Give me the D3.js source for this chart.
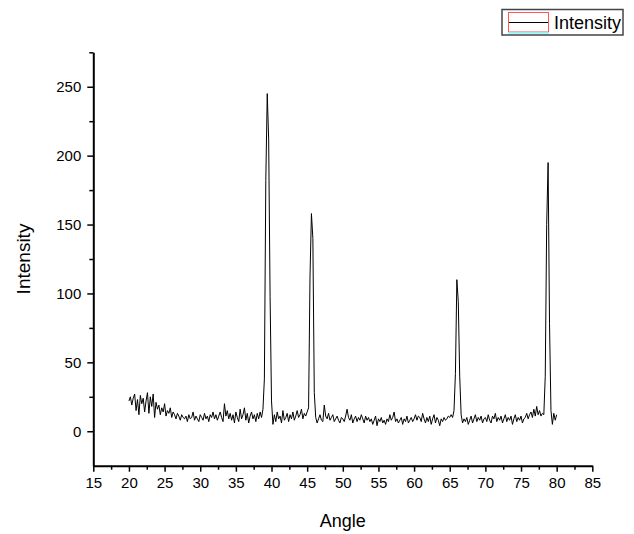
<!DOCTYPE html>
<html>
<head>
<meta charset="utf-8">
<script src="https://cdn.jsdelivr.net/npm/d3@7"></script>
<style>
  body { margin: 0; background: #fff; }
  text { font-family: "Liberation Sans", Arial, sans-serif; fill: #000; }
</style>
</head>
<body>
<svg id="chart" width="634" height="534"></svg>
<script>
// scan: 20 to 80 degrees, 0.2 degree step
let angleStart = 20;
let angleStep = 0.2;
let intensity = [
    22, 25, 19, 24, 27, 15, 23, 12, 26, 20,
    24, 14, 22, 28, 13, 25, 18, 27, 10, 21,
    16, 19, 12, 17, 14, 20, 11, 15, 13, 17,
    10, 14, 12, 9, 13, 11, 8, 12, 10, 9,
    11, 7, 12, 9, 10, 14, 8, 11, 9, 7,
    12, 10, 8, 13, 9, 11, 7, 12, 10, 14,
    9, 12, 8, 11, 14, 10, 7, 20, 11, 15,
    9, 13, 8, 12, 6, 14, 10, 7, 16, 9,
    12, 17, 8, 13, 6, 11, 14, 9, 12, 7,
    13, 9, 14, 10, 16, 38, 182, 245, 212, 98,
    22, 5, 12, 7, 14, 9, 11, 6, 15, 8,
    10, 13, 7, 12, 9, 14, 8, 11, 15, 10,
    12, 16, 9, 13, 11, 14, 17, 112, 158, 140,
    28, 10, 6, 9, 12, 8, 7, 19, 11, 9,
    13, 8, 10, 12, 7, 9, 11, 8, 6, 10,
    9, 7, 11, 16, 10, 8, 12, 6, 9, 11,
    7, 10, 8, 12, 9, 6, 11, 8, 10, 7,
    9, 5, 8, 11, 4, 9, 7, 10, 6, 8,
    5, 9, 7, 12, 8, 10, 14, 7, 9, 6,
    8, 10, 5, 9, 7, 11, 6, 8, 10, 7,
    9, 12, 8, 11, 10, 7, 13, 9, 6, 10,
    7, 11, 5, 9, 12, 6, 10, 8, 4, 9,
    7, 10, 8, 9, 11, 10, 12, 10, 15, 42,
    110, 94, 40, 12, 6, 9, 7, 10, 5, 8,
    11, 6, 9, 12, 7, 10, 8, 11, 6, 9,
    10, 7, 12, 8, 6, 11, 9, 13, 7, 10,
    8, 11, 6, 9, 12, 7, 10, 8, 11, 5,
    9, 12, 7, 10, 8, 11, 6, 9, 10, 13,
    9, 12, 14, 10, 16, 11, 18, 12, 15, 11,
    13, 12, 40, 150, 195, 78, 15, 5, 13, 8,
    12
];

let xTicks = [15, 20, 25, 30, 35, 40, 45, 50, 55, 60, 65, 70, 75, 80, 85];
let xMinor = [17.5, 22.5, 27.5, 32.5, 37.5, 42.5, 47.5, 52.5, 57.5, 62.5, 67.5, 72.5, 77.5, 82.5];
let yTicks = [0, 50, 100, 150, 200, 250];
let yMinor = [25, 75, 125, 175, 225, 275];

let svg = d3.select("#chart");

let plotLeft = 93.3, plotRight = 592.3, plotTop = 52.3, plotBottom = 465.7;

let x = d3.scaleLinear().domain([15, 85]).range([plotLeft, plotRight]);
let y = d3.scaleLinear().domain([-25, 275]).range([plotBottom, plotTop]);

let points = intensity.map((v, i) => [angleStart + i * angleStep, v]);

// minor ticks first, majors with labels on top
svg.append("g")
    .attr("transform", "translate(0," + plotBottom + ")")
    .call(d3.axisBottom(x).tickValues(xMinor).tickSize(4).tickSizeOuter(0).tickFormat(""))
    .call(g => g.select(".domain").remove())
    .selectAll("line").style("stroke", "#000").style("stroke-width", 1.5);

svg.append("g")
    .attr("transform", "translate(" + plotLeft + ",0)")
    .call(d3.axisLeft(y).tickValues(yMinor).tickSize(4).tickSizeOuter(0).tickFormat(""))
    .call(g => g.select(".domain").remove())
    .selectAll("line").style("stroke", "#000").style("stroke-width", 1.5);

let xAxis = svg.append("g")
    .attr("transform", "translate(0," + plotBottom + ")")
    .call(d3.axisBottom(x).tickValues(xTicks).tickSize(6).tickSizeOuter(0).tickPadding(6));

let yAxis = svg.append("g")
    .attr("transform", "translate(" + plotLeft + ",0)")
    .call(d3.axisLeft(y).tickValues(yTicks).tickSize(6).tickSizeOuter(0).tickPadding(6));

[xAxis, yAxis].forEach(g => {
    g.select(".domain").style("stroke", "#000").style("stroke-width", 2);
    g.selectAll(".tick line").style("stroke", "#000").style("stroke-width", 1.5);
    g.selectAll(".tick text").style("font-size", "15px").style("fill", "#000")
        .style("font-family", "'Liberation Sans', Arial, sans-serif");
});

// data line
svg.append("path")
    .datum(points)
    .attr("fill", "none")
    .style("stroke", "#000")
    .style("stroke-width", 1)
    .attr("d", d3.line().x(d => x(d[0])).y(d => y(d[1])));

// axis titles
svg.append("text")
    .attr("x", x(50))
    .attr("y", 527)
    .attr("text-anchor", "middle")
    .style("font-size", "18px")
    .text("Angle");

svg.append("text")
    .attr("transform", "translate(30," + y(125) + ") rotate(-90)")
    .attr("text-anchor", "middle")
    .style("font-size", "19px")
    .text("Intensity");

// legend
let legend = svg.append("g");
legend.append("rect")
    .attr("x", 502).attr("y", 9.5)
    .attr("width", 121).attr("height", 25.5)
    .attr("fill", "#fff")
    .style("stroke", "#444").style("stroke-width", 1.5);
legend.append("rect")
    .attr("x", 508.5).attr("y", 12.5)
    .attr("width", 40).attr("height", 19.5)
    .attr("fill", "none")
    .style("stroke", "#ff5555").style("stroke-width", 1);
legend.append("line")
    .attr("x1", 508).attr("x2", 549)
    .attr("y1", 33).attr("y2", 33)
    .style("stroke", "#80ffff").style("stroke-width", 1.5);
legend.append("line")
    .attr("x1", 509).attr("x2", 548)
    .attr("y1", 22.5).attr("y2", 22.5)
    .style("stroke", "#000").style("stroke-width", 1);
legend.append("text")
    .attr("x", 554)
    .attr("y", 29)
    .style("font-size", "18px")
    .text("Intensity");
</script>
</body>
</html>
